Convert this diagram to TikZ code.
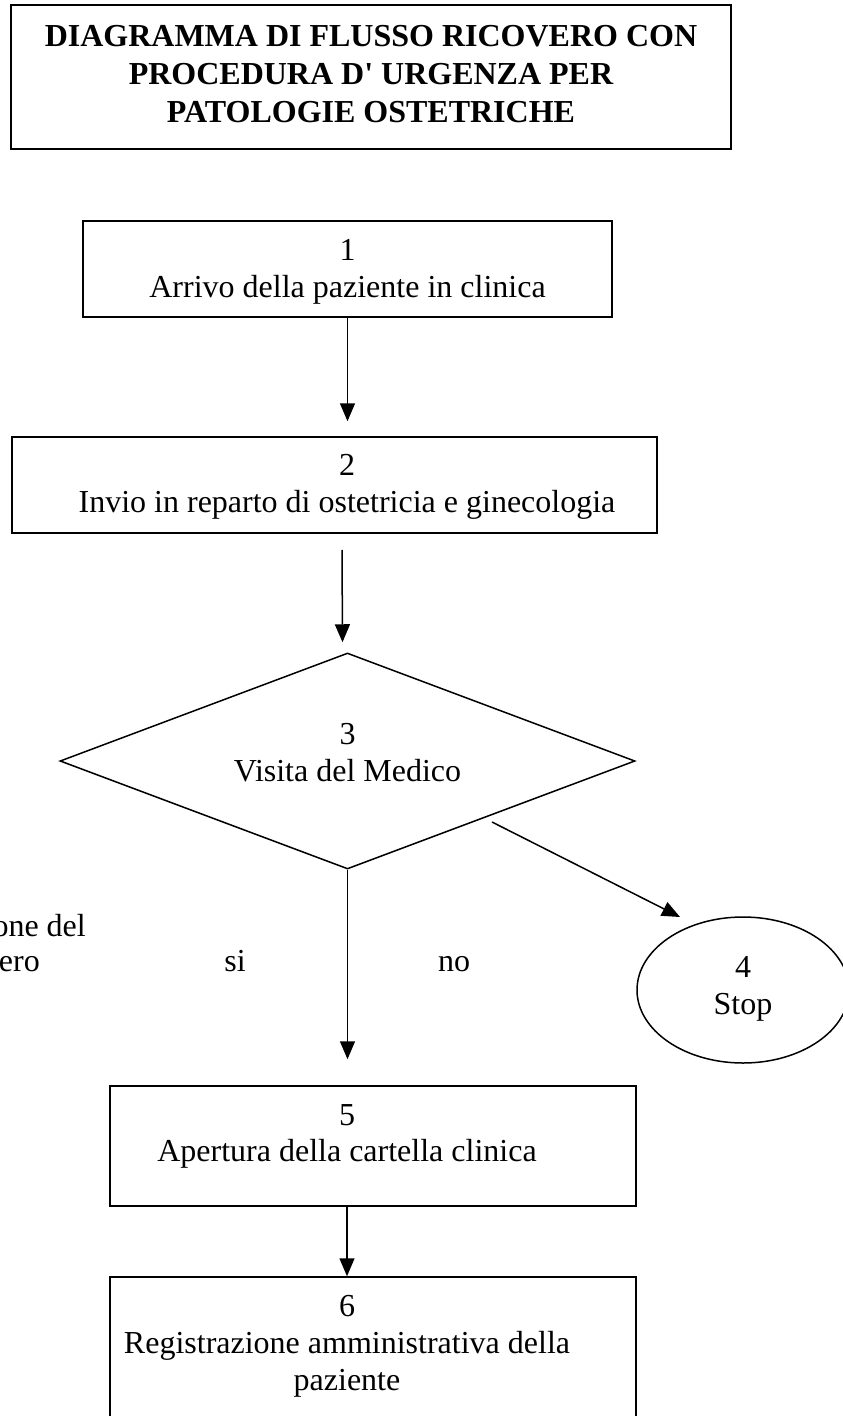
\documentclass[tikz,border=0pt]{standalone}
\usepackage{fontspec}
\setmainfont{Liberation Serif}
\usetikzlibrary{arrows.meta,shapes.geometric}
\begin{document}
\begin{tikzpicture}[x=1pt,y=-1pt,
  every node/.style={font=\fontsize{32}{36.8}\selectfont},
  box/.style={draw, rectangle, inner sep=0pt, line width=1.5pt},
  lbl/.style={inner sep=0pt, align=center},
  arr/.style={line width=1.5pt, -{Triangle[length=18pt,width=15pt]}},
]
\useasboundingbox (0,0) rectangle (843,1416);
% title
\node[box, minimum width=720pt, minimum height=144pt] (title) at (371,77) {};
\node[lbl, font=\fontsize{32}{38}\selectfont\bfseries] (ttl) at (371,74)
  {DIAGRAMMA DI FLUSSO RICOVERO CON\\PROCEDURA D\textquotesingle{} URGENZA PER\\PATOLOGIE OSTETRICHE};
% boxes
\node[box, minimum width=529pt, minimum height=96pt] (b1) at (347.5,269) {};
\node[lbl] (t1) at (347.5,271.5) {1\\Arrivo della paziente in clinica};
\node[box, minimum width=645pt, minimum height=96pt] (b2) at (334.5,485) {};
\node[lbl] (t2) at (347,486.5) {2\\Invio in reparto di ostetricia e ginecologia};
\node[draw, diamond, line width=1.5pt, inner sep=0pt, minimum width=575pt, minimum height=216pt] (d3) at (347.5,761) {};
\node[lbl] (t3) at (347.5,752.5) {3\\Visita del Medico};
\node[draw, ellipse, line width=1.5pt, inner sep=0pt, minimum width=212pt, minimum height=146pt] (e4) at (743,990) {};
\node[lbl] (t4) at (743,988.5) {4\\Stop};
\node[box, minimum width=526pt, minimum height=120pt] (b5) at (373,1146) {};
\node[lbl] (t5) at (347,1136.5) {5\\Apertura della cartella clinica};
\node[box, minimum width=526pt, minimum height=200pt] (b6) at (373,1377) {};
\node[lbl] (t6) at (347,1346.5) {6\\Registrazione amministrativa della\\paziente};
% labels
\node[lbl, anchor=base] (si) at (235,971) {si};
\node[lbl, anchor=base] (no) at (454,971) {no};
\node[lbl, anchor=base east] (c1) at (86,936) {one del};
\node[lbl, anchor=base east] (c2) at (40,971) {ero};
% connectors
\draw[arr] (b1.south) -- ([yshift=15pt]b2.north -| b1.south);
\draw[arr] ([yshift=-16pt]b2.south -| 342,0) -- ([xshift=-5pt,yshift=10pt]d3.north);
\draw[arr] (d3.south) -- ([yshift=26pt]b5.north -| d3.south);
\draw[arr] (b5.south -| t5.south) -- (b6.north -| t5.south);
\coordinate (s34) at (492,822);
\coordinate (e34) at (680,917);
\draw[arr] (s34) -- (e34);
\end{tikzpicture}
\end{document}
